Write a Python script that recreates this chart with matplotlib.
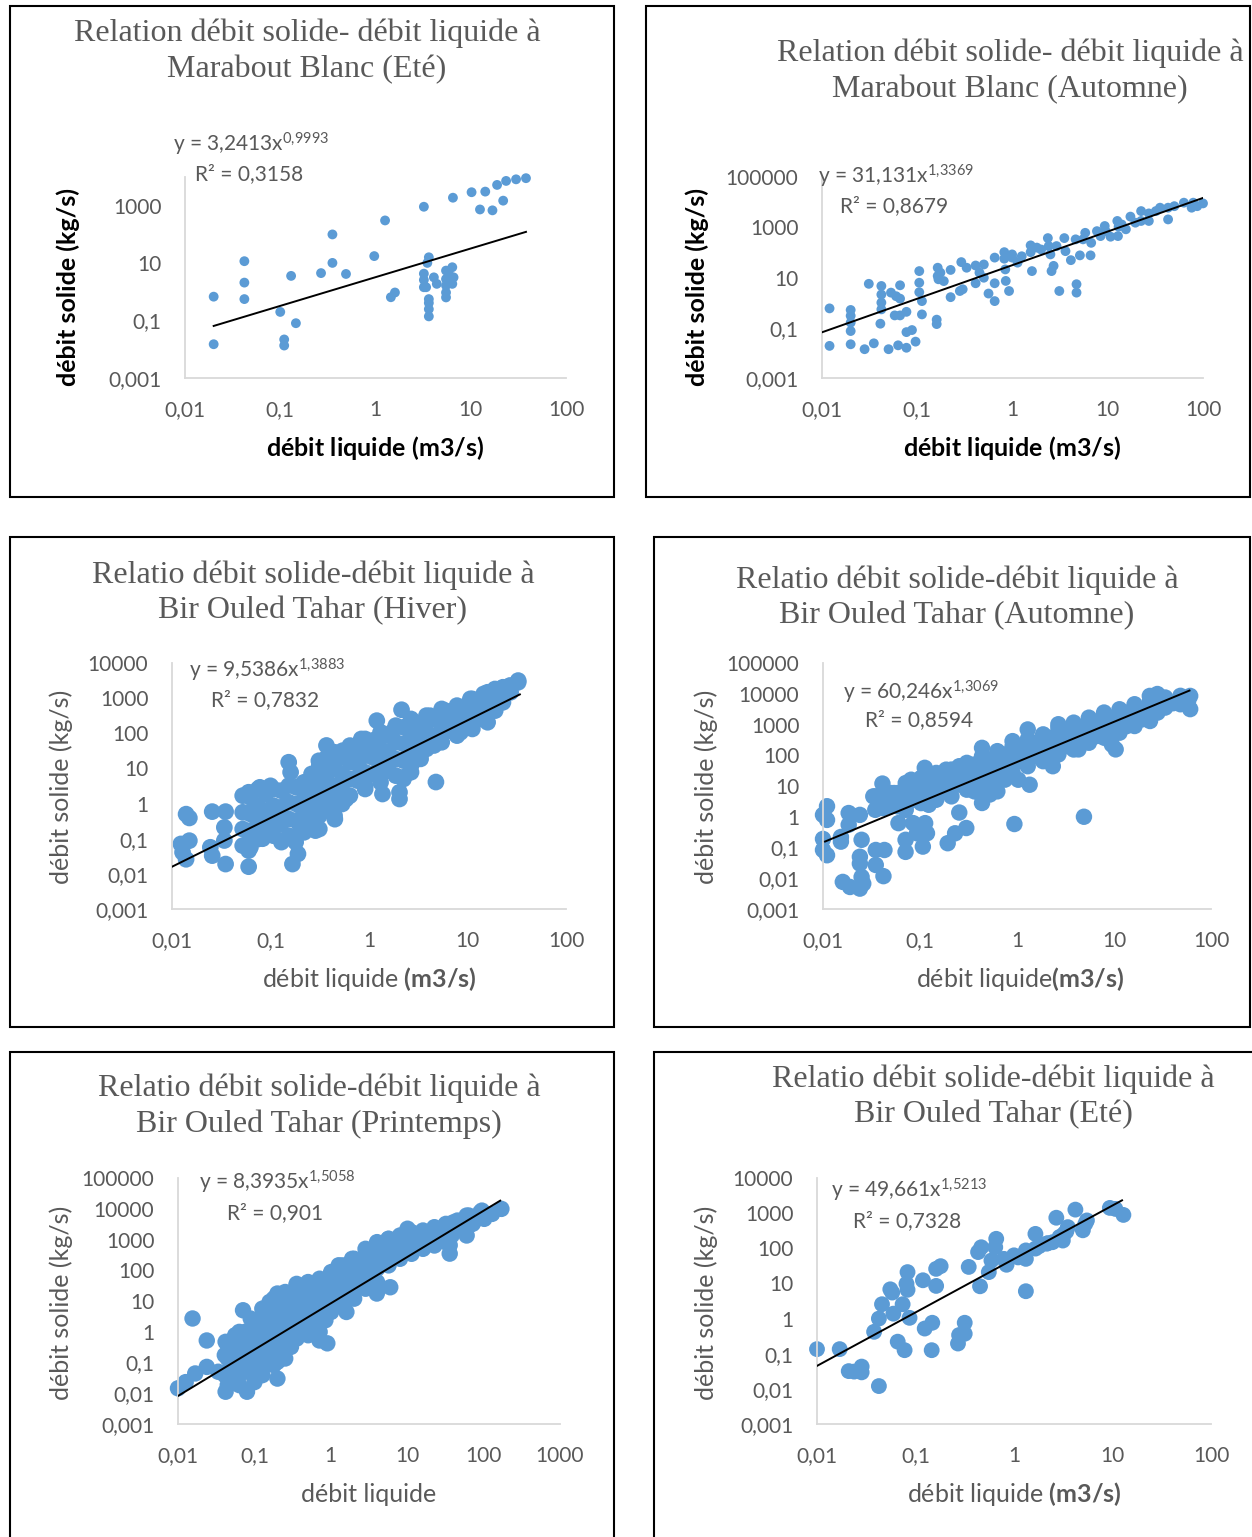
import numpy as np
import matplotlib
matplotlib.use("Agg")
import matplotlib.pyplot as plt
from matplotlib.patches import Rectangle
from matplotlib.ticker import FixedLocator, NullLocator

plt.rcParams['font.family'] = ['Lato', 'DejaVu Sans']
plt.rcParams['mathtext.fontset'] = 'custom'
plt.rcParams['mathtext.rm'] = 'Lato'
plt.rcParams['mathtext.it'] = 'Lato:italic'
plt.rcParams['mathtext.bf'] = 'Lato:bold'

# ---------------------------------------------------------------- data
# (débit liquide m3/s, débit solide kg/s)
mb_ete = [
    (0.02, 0.68), (0.02, 0.015), (0.042, 11.7), (0.042, 2.1), (0.042, 0.56),
    (0.13, 3.6), (0.10, 0.2), (0.146, 0.081), (0.11, 0.022), (0.11, 0.0135),
    (0.268, 4.5), (0.353, 100), (0.353, 10.2), (0.49, 4.2), (0.97, 17.6),
    (1.26, 307), (1.45, 0.65), (1.6, 0.95), (3.22, 920), (6.5, 1900),
    (10.2, 2950), (14.2, 3100), (18.9, 5300), (23.5, 7300), (29.9, 8300),
    (38, 9100), (12.5, 740), (16.9, 690), (21.9, 1500), (3.22, 4.3),
    (3.22, 2.6), (3.22, 1.45), (3.63, 16), (3.5, 10.2), (3.63, 0.56),
    (3.63, 0.41), (3.63, 0.25), (3.63, 0.14), (3.4, 1.45), (4.1, 3.2),
    (4.4, 1.9), (5.5, 5.5), (5.5, 2.8), (5.5, 1.66), (5.5, 0.95), (5.5, 0.64),
    (6.4, 7.2), (6.6, 3.2), (6.4, 1.9), (6.0, 3.7),
]

mb_automne = [
    (0.012, 0.59), (0.012, 0.019), (0.020, 0.51), (0.020, 0.30), (0.020, 0.16),
    (0.020, 0.074), (0.020, 0.022), (0.028, 0.014), (0.035, 0.024), (0.031, 5.6),
    (0.041, 0.145), (0.042, 4.6), (0.042, 2.1), (0.042, 1.0), (0.042, 0.54),
    (0.050, 0.014), (0.053, 2.5), (0.060, 1.8), (0.066, 1.44), (0.066, 4.9),
    (0.058, 0.31), (0.066, 0.31), (0.063, 0.02), (0.077, 0.43), (0.077, 0.067),
    (0.077, 0.016), (0.088, 0.081), (0.096, 0.028), (0.105, 18), (0.105, 6.2),
    (0.105, 2.6), (0.112, 1.15), (0.112, 0.34), (0.16, 0.21), (0.16, 0.14),
    (0.164, 24.5), (0.164, 11.5), (0.167, 8.5), (0.175, 15.5), (0.19, 7.2),
    (0.224, 20), (0.224, 1.65), (0.28, 2.9), (0.29, 41), (0.30, 3.4),
    (0.33, 24.5), (0.41, 30), (0.41, 5.9), (0.45, 15.5), (0.50, 33),
    (0.50, 9.8), (0.56, 2.3), (0.65, 1.15), (0.65, 62), (0.65, 5.9),
    (0.82, 102), (0.82, 56), (0.84, 21), (0.85, 7.3), (0.92, 2.9),
    (0.99, 62), (1.13, 39), (1.6, 18), (1.55, 190), (1.55, 102),
    (1.8, 155), (2.35, 370), (2.4, 178), (2.5, 83), (2.57, 18),
    (2.7, 29), (3.1, 2.9), (3.5, 370), (3.6, 112), (4.1, 49),
    (4.7, 5.4), (4.7, 2.5), (4.6, 330), (5.1, 76), (5.8, 600),
    (6.6, 76), (6.7, 240), (8.4, 445), (9.3, 1120), (9.5, 700),
    (10.7, 420), (12.6, 1780), (12.8, 445), (13, 1050), (15.5, 830),
    (17.3, 2650), (19.5, 1520), (22.4, 4400), (22.4, 1780), (27, 3550),
    (27, 1780), (35.4, 6000), (43, 2050), (43, 6000), (50, 6900),
    (63, 9500), (76, 6000), (87, 6900), (100, 8900), (79, 9500),
    (32, 4400), (14, 1290), (7.7, 700), (5.5, 330), (2.9, 178),
    (2.0, 130), (1.25, 70), (0.99, 83),
]

bot_hiver = [
    (0.0139, 0.50), (0.015, 0.39), (0.0123, 0.071), (0.015, 0.088), (0.0139, 0.026),
    (0.0128, 0.041), (0.0256, 0.59), (0.0245, 0.057), (0.0256, 0.033), (0.035, 0.019),
    (0.035, 0.59), (0.034, 0.21), (0.034, 0.089), (0.06, 0.016), (0.06, 2.1),
    (0.06, 0.56), (0.06, 0.15), (0.06, 0.046), (0.078, 2.9), (0.083, 0.1),
    (0.1, 3.2), (0.117, 0.56), (0.129, 0.08), (0.167, 0.019), (0.19, 0.037),
    (0.18, 0.08), (0.153, 15), (0.16, 7.8), (0.2, 3.2), (0.2, 0.87),
    (0.2, 0.23), (0.286, 0.17), (0.286, 1.1), (0.31, 16.5), (0.31, 6.3),
    (0.37, 45), (0.45, 0.36), (0.45, 2.6), (0.45, 15), (0.54, 32),
    (0.585, 5), (0.585, 1.35), (0.70, 29), (0.70, 5), (0.835, 69),
    (1.0, 35), (0.91, 3.2), (1.2, 229), (1.2, 69), (1.2, 18.6),
    (1.37, 1.87), (1.56, 9.5), (1.71, 107), (2.04, 2.1), (2.04, 1.35),
    (2.14, 468), (2.24, 5), (2.67, 7.8), (2.67, 45), (2.92, 204),
    (3.34, 18.7), (3.34, 69), (4.17, 316), (4.57, 45), (4.78, 4.1),
    (6.0, 437), (6.0, 166), (7.5, 229), (9.8, 617), (10.2, 148),
    (10.7, 955), (14.6, 316), (14.6, 1320), (15.5, 617), (19, 1820),
    (19, 490), (25, 1480), (27, 2290), (32.7, 3160), (12.2, 850),
    (8.5, 316), (8.5, 107),
    (0.0522, 1.68), (0.0522, 0.564), (0.0522, 0.189), (0.0522, 0.0635),
    (0.0748, 2.60), (0.0748, 0.873), (0.0748, 0.293), (0.0748, 0.098),
    (0.107, 2.60), (0.107, 0.873), (0.107, 0.293), (0.107, 0.122),
    (0.153, 3.24), (0.153, 1.09), (0.153, 0.365), (0.153, 0.122),
    (0.219, 4.03), (0.219, 1.35), (0.219, 0.453), (0.219, 0.152),
    (0.313, 12.0), (0.313, 4.03), (0.313, 1.35), (0.313, 0.453), (0.313, 0.189),
    (0.447, 28.8), (0.447, 9.66), (0.447, 3.24), (0.447, 1.09), (0.447, 0.453),
    (0.640, 44.6), (0.640, 15.0), (0.640, 5.01), (0.640, 1.68),
    (0.914, 69), (0.914, 23.1), (0.914, 7.76), (0.914, 2.60),
    (1.31, 107), (1.31, 35.8), (1.31, 12.0), (1.31, 4.03),
    (1.87, 165), (1.87, 55.5), (1.87, 18.6), (1.87, 6.24),
    (2.67, 256), (2.67, 85.9), (2.67, 28.8), (2.67, 12.0),
    (3.83, 318), (3.83, 107), (3.83, 35.8),
    (5.47, 493), (5.47, 165), (5.47, 55.5),
    (7.82, 612), (7.82, 206), (7.82, 85.9),
    (11.2, 948), (11.2, 318), (11.2, 133),
    (16.0, 1470), (16.0, 493), (16.0, 206),
    (22.9, 2040), (22.9, 762), (32.7, 2830),
    (0.0625, 1.51), (0.0625, 0.506), (0.0625, 0.170), (0.0625, 0.057),
    (0.0894, 1.87), (0.0894, 0.630), (0.0894, 0.211),
    (0.128, 2.33), (0.128, 0.783), (0.128, 0.263),
    (0.183, 2.90), (0.183, 0.975), (0.183, 0.327),
    (0.261, 6.96), (0.261, 2.33), (0.261, 0.783), (0.261, 0.263),
    (0.374, 20.7), (0.374, 6.96), (0.374, 2.33), (0.374, 0.783),
    (0.535, 20.7), (0.535, 6.96), (0.535, 2.33), (0.535, 0.975),
    (0.764, 39.9), (0.764, 13.4), (0.764, 4.50),
    (1.09, 61.8), (1.09, 20.7), (1.09, 6.96),
    (1.56, 85.9), (1.56, 28.8), (1.56, 8.66),
    (2.24, 148), (2.24, 49.7), (2.24, 16.7), (2.24, 5.59),
    (3.20, 184), (3.20, 61.8), (3.20, 20.7),
    (4.57, 256), (4.57, 85.9), (6.55, 355), (6.55, 119),
    (9.35, 493), (9.35, 184), (13.4, 762), (13.4, 256),
    (19.1, 1060), (19.1, 442), (27.4, 1470),
]

bot_automne = [
    (0.010, 1.15), (0.011, 2.2), (0.011, 0.79), (0.010, 0.19), (0.010, 0.083),
    (0.011, 0.056), (0.0153, 0.155), (0.0153, 0.22), (0.016, 0.0076), (0.019, 0.0052),
    (0.024, 0.0046), (0.026, 0.0067), (0.025, 0.011), (0.024, 0.05), (0.024, 0.03),
    (0.025, 0.178), (0.0184, 1.32), (0.0184, 0.55), (0.024, 1.15), (0.035, 0.027),
    (0.035, 0.083), (0.042, 0.0117), (0.043, 0.083), (0.041, 12), (0.033, 4.6),
    (0.054, 5.9), (0.06, 0.62), (0.071, 0.072), (0.071, 0.178), (0.081, 16),
    (0.085, 0.62), (0.093, 0.29), (0.107, 0.107), (0.112, 39), (0.113, 0.62),
    (0.118, 0.29), (0.135, 4.6), (0.193, 0.138), (0.23, 0.29), (0.254, 1.37),
    (0.30, 0.43), (0.186, 34), (0.254, 44), (0.436, 174), (0.436, 2.8),
    (0.525, 5.3), (0.90, 288), (0.94, 0.58), (1.03, 16), (1.35, 11),
    (1.29, 690), (2.34, 44), (2.67, 1020), (4.3, 155), (4.9, 1.0),
    (7.9, 2450), (9.5, 224), (10.4, 155), (23.4, 8500), (28, 9800),
    (48, 6600), (61, 8500), (61, 3160), (33.7, 5900),
    (0.0346, 4.60), (0.0346, 1.68), (0.0497, 5.91), (0.0497, 2.16),
    (0.0713, 12.5), (0.0713, 4.60), (0.0713, 1.68),
    (0.1025, 18.3), (0.1025, 7.59), (0.1025, 2.78),
    (0.147, 26.6), (0.147, 9.75), (0.147, 3.57),
    (0.211, 34.2), (0.211, 12.5), (0.211, 4.60),
    (0.304, 56.5), (0.304, 20.7), (0.304, 7.59),
    (0.436, 93.3), (0.436, 34.2), (0.436, 12.5), (0.436, 4.60),
    (0.627, 136), (0.627, 49.9), (0.627, 18.3), (0.627, 6.70),
    (0.901, 198), (0.901, 72.6), (0.901, 26.6),
    (1.29, 327), (1.29, 120), (1.29, 44.0),
    (1.86, 477), (1.86, 175), (1.86, 64.1),
    (2.67, 788), (2.67, 289), (2.67, 106),
    (3.84, 1150), (3.84, 421), (3.84, 154),
    (5.51, 1670), (5.51, 613), (5.51, 255),
    (7.92, 2150), (7.92, 893), (7.92, 371),
    (11.4, 3130), (11.4, 1300), (11.4, 541),
    (16.3, 4560), (16.3, 1900), (16.3, 893),
    (23.5, 5870), (23.5, 2760), (23.5, 1300),
    (33.7, 7540), (33.7, 3550), (48.4, 8550), (48.4, 4560),
    (0.0415, 4.05), (0.0415, 1.91), (0.0596, 5.91), (0.0596, 2.16),
    (0.0855, 9.75), (0.0855, 3.57),
    (0.123, 16.1), (0.123, 5.91), (0.123, 2.45),
    (0.177, 18.3), (0.177, 6.70), (0.254, 30.2), (0.254, 11.1),
    (0.364, 49.9), (0.364, 18.3), (0.364, 6.70),
    (0.523, 72.6), (0.523, 26.6), (0.523, 9.75),
    (0.751, 106), (0.751, 38.8), (0.751, 16.1),
    (1.08, 175), (1.08, 64.1), (1.55, 255), (1.55, 93),
    (2.23, 371), (2.23, 136), (3.20, 541), (3.20, 198),
    (4.60, 788), (4.60, 289), (6.61, 1150), (6.61, 421),
    (9.49, 1670), (9.49, 613), (13.6, 2440), (13.6, 893),
    (19.6, 3130), (19.6, 1480), (28.1, 4030), (28.1, 2440),
    (40.4, 4920), (58.1, 5870),
]

bot_printemps = [
    (0.01, 0.0145), (0.0126, 0.023), (0.0155, 2.7), (0.0168, 0.044), (0.0238, 0.52),
    (0.0238, 0.072), (0.0336, 0.05), (0.042, 0.0112), (0.042, 0.47), (0.041, 0.174),
    (0.041, 0.039), (0.056, 0.77), (0.071, 5), (0.08, 0.0112), (0.1, 0.023),
    (0.063, 0.081), (0.158, 9.3), (0.2, 0.03), (0.2, 0.105), (0.2, 17.5),
    (0.357, 36), (0.90, 0.42), (0.71, 0.52), (1.6, 4.4), (1.27, 145),
    (1.9, 235), (3.8, 560), (5.7, 1050), (6.0, 28), (4.0, 17.5),
    (10.1, 2240), (36, 347), (36, 650), (60, 1350), (60, 6000),
    (102, 4700), (95, 8700), (129, 6800), (171, 9900), (40, 3600),
    (20, 1500), (16, 1050), (12.8, 810), (25.5, 1950), (72, 3240),
    (0.0448, 0.365), (0.0448, 0.135), (0.0448, 0.0498), (0.0448, 0.0184),
    (0.0634, 0.989), (0.0634, 0.365), (0.0634, 0.135), (0.0634, 0.0498), (0.0634, 0.0184),
    (0.0896, 2.67), (0.0896, 0.989), (0.0896, 0.365), (0.0896, 0.135), (0.0896, 0.0498),
    (0.127, 5.64), (0.127, 2.08), (0.127, 0.770), (0.127, 0.284), (0.127, 0.105), (0.127, 0.0388),
    (0.179, 11.9), (0.179, 4.40), (0.179, 1.63), (0.179, 0.600), (0.179, 0.222), (0.179, 0.082),
    (0.253, 19.6), (0.253, 7.23), (0.253, 2.67), (0.253, 0.989), (0.253, 0.365), (0.253, 0.135),
    (0.357, 32.2), (0.357, 11.9), (0.357, 4.40), (0.357, 1.63), (0.357, 0.600),
    (0.505, 41.3), (0.505, 15.3), (0.505, 5.64), (0.505, 2.08), (0.505, 0.770),
    (0.714, 53), (0.714, 19.6), (0.714, 7.23), (0.714, 2.67), (0.714, 0.989),
    (1.01, 87.3), (1.01, 32.2), (1.01, 11.9), (1.01, 4.40),
    (1.43, 144), (1.43, 53), (1.43, 19.6), (1.43, 7.23),
    (2.02, 236), (2.02, 87.3), (2.02, 32.2), (2.02, 11.9),
    (2.85, 498), (2.85, 184), (2.85, 68), (2.85, 25.1),
    (4.03, 820), (4.03, 303), (4.03, 112), (4.03, 41.3),
    (5.70, 1050), (5.70, 388), (5.70, 144),
    (8.05, 1350), (8.05, 564), (8.05, 236),
    (11.4, 1730), (11.4, 723), (11.4, 343),
    (16.1, 1960), (16.1, 929), (16.1, 498),
    (22.7, 2510), (22.7, 1190), (22.7, 638),
    (32.1, 3220), (32.1, 1530), (32.1, 820),
    (45.4, 4130), (45.4, 2220), (64.2, 6000), (64.2, 2840), (90.8, 7690),
    (0.0532, 0.468), (0.0532, 0.173), (0.0532, 0.0638), (0.0532, 0.0267),
    (0.0753, 0.989), (0.0753, 0.365), (0.0753, 0.135), (0.0753, 0.0498),
    (0.106, 2.36), (0.106, 0.873), (0.106, 0.322), (0.106, 0.119),
    (0.150, 4.98), (0.150, 1.84), (0.150, 0.68), (0.150, 0.25), (0.150, 0.093),
    (0.213, 9.29), (0.213, 3.43), (0.213, 1.27), (0.213, 0.468), (0.213, 0.173),
    (0.301, 15.3), (0.301, 5.64), (0.301, 2.08), (0.301, 0.77), (0.301, 0.322),
    (0.425, 22.2), (0.425, 8.2), (0.425, 3.03), (0.425, 1.12),
    (0.601, 28.4), (0.601, 10.5), (0.601, 3.88), (0.601, 1.44),
    (0.849, 41.3), (0.849, 15.3), (0.849, 5.64), (0.849, 2.36),
    (1.20, 68), (1.20, 25.1), (1.20, 9.29),
    (1.70, 112), (1.70, 41.3), (1.70, 15.3),
    (2.40, 208), (2.40, 76.9), (2.40, 28.4),
    (3.39, 388), (3.39, 144), (3.39, 53),
    (4.79, 564), (4.79, 208), (6.77, 723), (6.77, 267),
    (9.57, 929), (9.57, 498), (13.5, 1100), (13.5, 564),
    (19.1, 1350), (19.1, 820), (27.0, 1730), (27.0, 1050),
    (38.2, 2220), (38.2, 1350), (54.0, 2990), (76.4, 4130),
]

bot_ete = [
    (0.01, 0.135), (0.017, 0.135), (0.021, 0.032), (0.0238, 0.031), (0.0284, 0.043),
    (0.0284, 0.0295), (0.0425, 0.012), (0.038, 0.42), (0.0425, 1.0), (0.0457, 2.56),
    (0.0555, 6.8), (0.058, 5.5), (0.0596, 1.38), (0.066, 0.22), (0.0775, 0.126),
    (0.074, 2.56), (0.083, 21), (0.081, 9.8), (0.083, 6.6), (0.087, 1.05),
    (0.119, 12.3), (0.124, 0.52), (0.148, 0.76), (0.146, 0.126), (0.162, 8.5),
    (0.162, 26), (0.18, 31), (0.27, 0.195), (0.277, 0.34), (0.316, 0.37),
    (0.316, 0.76), (0.347, 29.5), (0.452, 8.3), (0.432, 78), (0.465, 107),
    (0.555, 21), (0.59, 45), (0.645, 107), (0.66, 186), (0.79, 50),
    (0.84, 34), (1.0, 63), (1.32, 87), (1.32, 50), (1.32, 6.0),
    (1.65, 257), (1.65, 98), (2.15, 135), (2.46, 149), (2.69, 740),
    (3.13, 166), (3.22, 257), (3.52, 400), (4.2, 1260), (5.0, 325),
    (5.5, 620), (9.4, 1410), (10.7, 1320), (12.9, 890), (1.8, 115),
    (1.1, 55), (2.2, 140), (2.9, 210), (3.4, 300), (5.3, 500),
]

# power-law trend lines: coefficient, exponent, R², x-extent
trend_coef = ["3,2413", "31,131", "9,5386", "60,246", "8,3935", "49,661"]
trend_expo = ["0,9993", "1,3369", "1,3883", "1,3069", "1,5058", "1,5213"]
trend_r2 = ["0,3158", "0,8679", "0,7832", "0,8594", "0,901", "0,7328"]
trend_span = [(0.02, 38), (0.01, 100), (0.01, 34), (0.0105, 60), (0.01, 165), (0.01, 12.5)]

titles = [
    ("Relation débit solide- débit liquide à", "Marabout Blanc (Eté)"),
    ("Relation débit solide- débit liquide à", "Marabout Blanc (Automne)"),
    ("Relatio débit solide-débit liquide à", "Bir Ouled Tahar (Hiver)"),
    ("Relatio débit solide-débit liquide à", "Bir Ouled Tahar (Automne)"),
    ("Relatio débit solide-débit liquide à", "Bir Ouled Tahar (Printemps)"),
    ("Relatio débit solide-débit liquide à", "Bir Ouled Tahar (Eté)"),
]
xlabels = [
    r"$\mathbf{débit\ liquide\ (m3/s)}$",
    r"$\mathbf{débit\ liquide\ (m3/s)}$",
    r"débit liquide $\mathbf{(m3/s)}$",
    r"débit liquide$\mathbf{(m3/s)}$",
    "débit liquide",
    r"débit liquide $\mathbf{(m3/s)}$",
]
ylabels = ["débit solide (kg/s)"] * 6

xticks_a = [0.01, 0.1, 1, 10, 100]
xticklabels_a = ["0,01", "0,1", "1", "10", "100"]
xticks_b = [0.01, 0.1, 1, 10, 100, 1000]
xticklabels_b = ["0,01", "0,1", "1", "10", "100", "1000"]
yticks_sparse4 = [1e-3, 1e-1, 1e1, 1e3]
yticklabels_sparse4 = ["0,001", "0,1", "10", "1000"]
yticks_sparse5 = [1e-3, 1e-1, 1e1, 1e3, 1e5]
yticklabels_sparse5 = ["0,001", "0,1", "10", "1000", "100000"]
yticks_4 = [1e-3, 1e-2, 1e-1, 1, 10, 100, 1e3, 1e4]
yticklabels_4 = ["0,001", "0,01", "0,1", "1", "10", "100", "1000", "10000"]
yticks_5 = yticks_4 + [1e5]
yticklabels_5 = yticklabels_4 + ["100000"]

# ---------------------------------------------------------------- layout
W, H = 1252, 1537
BLUE = "#5B9BD5"
GREY = "#595959"
AXIS = "#D9D9D9"


def fx(px):
    return px / W


def fy(py):
    return 1 - py / H


def num(s):
    return float(s.replace(",", "."))


fig = plt.figure(figsize=(W / 100, H / 100), dpi=100)
fig.patch.set_facecolor("white")

panels = [
    dict(data=mb_ete, box=(10, 6, 614, 497), plot=(185, 177, 566, 378),
         xl=(0.01, 100), yl=(1e-3, 1e4), xt=(xticks_a, xticklabels_a),
         yt=(yticks_sparse4, yticklabels_sparse4), ms=50,
         title_xy=(307, 33, 70), eq_xy=(173, 152, 195, 180),
         ylab_xy=(68, 287), xlab_xy=(375, 448), bold_labels=True),
    dict(data=mb_automne, box=(646, 6, 1250, 497), plot=(822, 177, 1203, 378),
         xl=(0.01, 100), yl=(1e-3, 1e5), xt=(xticks_a, xticklabels_a),
         yt=(yticks_sparse5, yticklabels_sparse5), ms=50,
         title_xy=(1010, 53, 90), eq_xy=(818, 183, 840, 212),
         ylab_xy=(697, 287), xlab_xy=(1012, 448), bold_labels=True),
    dict(data=bot_hiver, box=(10, 537, 614, 1027), plot=(172, 663, 566, 909),
         xl=(0.01, 100), yl=(1e-3, 1e4), xt=(xticks_a, xticklabels_a),
         yt=(yticks_4, yticklabels_4), ms=145,
         title_xy=(313, 575, 611), eq_xy=(189, 677, 211, 706),
         ylab_xy=(61, 787), xlab_xy=(369, 979), bold_labels=False),
    dict(data=bot_automne, box=(654, 537, 1250, 1027), plot=(823, 663, 1211, 909),
         xl=(0.01, 100), yl=(1e-3, 1e5), xt=(xticks_a, xticklabels_a),
         yt=(yticks_5, yticklabels_5), ms=140,
         title_xy=(957, 580, 616), eq_xy=(843, 699, 865, 726),
         ylab_xy=(706, 787), xlab_xy=(1020, 979), bold_labels=False),
    dict(data=bot_printemps, box=(10, 1052, 614, 1560), plot=(178, 1178, 560, 1424),
         xl=(0.01, 1000), yl=(1e-3, 1e5), xt=(xticks_b, xticklabels_b),
         yt=(yticks_5, yticklabels_5), ms=140,
         title_xy=(319, 1088, 1124), eq_xy=(199, 1189, 227, 1219),
         ylab_xy=(61, 1303), xlab_xy=(369, 1494), bold_labels=False),
    dict(data=bot_ete, box=(654, 1052, 1260, 1560), plot=(817, 1178, 1211, 1424),
         xl=(0.01, 100), yl=(1e-3, 1e4), xt=(xticks_a, xticklabels_a),
         yt=(yticks_4, yticklabels_4), ms=130,
         title_xy=(993, 1079, 1115), eq_xy=(831, 1197, 853, 1227),
         ylab_xy=(706, 1303), xlab_xy=(1014, 1494), bold_labels=False),
]

for i, p in enumerate(panels):
    # frame around each chart
    l, t, r, b = p["box"]
    fig.add_artist(Rectangle((fx(l), fy(b)), (r - l) / W, (b - t) / H,
                             transform=fig.transFigure, fill=False,
                             edgecolor="black", linewidth=1.5, zorder=0))

    pl, pt, pr, pb = p["plot"]
    ax = fig.add_axes([fx(pl), fy(pb), (pr - pl) / W, (pb - pt) / H])
    ax.set_xscale("log")
    ax.set_yscale("log")
    ax.set_xlim(*p["xl"])
    ax.set_ylim(*p["yl"])
    ax.set_facecolor("none")

    pts = np.array(p["data"])
    ax.scatter(pts[:, 0], pts[:, 1], s=p["ms"], color=BLUE, edgecolors="none",
               zorder=2, clip_on=False)

    a, k = num(trend_coef[i]), num(trend_expo[i])
    xs = np.geomspace(*trend_span[i], 60)
    ax.plot(xs, a * xs ** k, color="black", linewidth=1.4, zorder=3)

    ax.xaxis.set_major_locator(FixedLocator(p["xt"][0]))
    ax.set_xticklabels(p["xt"][1])
    ax.yaxis.set_major_locator(FixedLocator(p["yt"][0]))
    ax.set_yticklabels(p["yt"][1])
    ax.xaxis.set_minor_locator(NullLocator())
    ax.yaxis.set_minor_locator(NullLocator())
    ax.tick_params(axis="both", length=0, labelsize=15, labelcolor=GREY)
    ax.tick_params(axis="x", pad=16)
    ax.tick_params(axis="y", pad=17)

    for side in ("top", "right"):
        ax.spines[side].set_visible(False)
    for side in ("left", "bottom"):
        ax.spines[side].set_color(AXIS)
        ax.spines[side].set_linewidth(1.3)

    # titles
    cx, y1, y2 = p["title_xy"]
    for line, yy in zip(titles[i], (y1, y2)):
        fig.text(fx(cx), fy(yy), line, ha="center", va="center",
                 fontfamily="Liberation Serif", fontsize=23, color=GREY)

    # trend equation and R²
    ex, ey, rx, ry = p["eq_xy"]
    fig.text(fx(ex), fy(ey),
             "y = " + trend_coef[i] + "x$^{\\mathregular{" +
             trend_expo[i].replace(",", "{,}") + "}}$",
             ha="left", va="baseline", fontsize=15, color=GREY)
    fig.text(fx(rx), fy(ry), "R² = " + trend_r2[i], ha="left", va="baseline",
             fontsize=15, color=GREY)

    # axis titles
    lab_color = "black" if p["bold_labels"] else GREY
    lab_weight = "bold" if p["bold_labels"] else "normal"
    yx, yy = p["ylab_xy"]
    fig.text(fx(yx), fy(yy), ylabels[i], rotation=90, ha="center", va="center",
             fontsize=18, color=lab_color, fontweight=lab_weight)
    xx, xy = p["xlab_xy"]
    fig.text(fx(xx), fy(xy), xlabels[i], ha="center", va="center",
             fontsize=18, color=lab_color)

fig.savefig("out.png", dpi=100, facecolor="white")
